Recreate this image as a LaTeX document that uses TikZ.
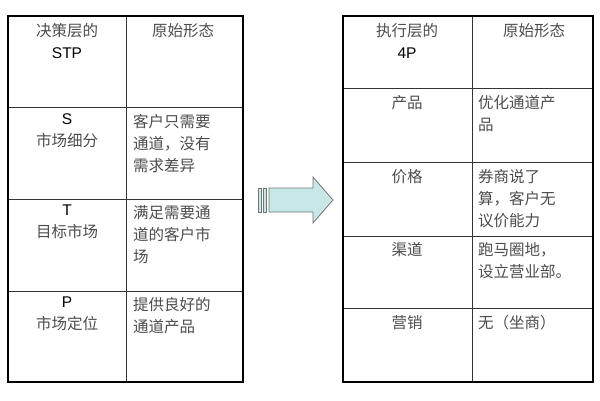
\documentclass[tikz,border=0pt]{standalone}
\usepackage{fontspec}
\newfontfamily\cjk{Noto Sans CJK SC}
\setmainfont{Liberation Sans}
\newcommand\latf{\rmfamily\color{black}}
\definecolor{arrfill}{RGB}{200,232,232}
\begin{document}
\begin{tikzpicture}[x=1pt,y=-1pt,
  tbl/.style={draw=black,line width=1.6pt},
  grid/.style={draw=black!80,line width=0.8pt},
  ctext/.style={anchor=north,align=center,font=\cjk\fontsize{15.5}{22}\selectfont,text=black!70,inner sep=0pt},
  ltext/.style={anchor=north west,align=left,font=\cjk\fontsize{15.5}{22}\selectfont,text=black!70,inner sep=0pt}]
\useasboundingbox (0,0) rectangle (600,400);
% left table
\draw[grid] (126,16) -- (126,382);
\foreach \y in {107,199,291} \draw[grid] (8,\y) -- (243,\y);
\draw[tbl] (8,16) rectangle (243,382);
% right table
\draw[grid] (472,16) -- (472,382);
\foreach \y in {88,162,236,308} \draw[grid] (343,\y) -- (593,\y);
\draw[tbl] (343,16) rectangle (593,382);
% left texts
\node[ctext] (h1) at (67,23) {决策层的\\{\latf STP}};
\node[ctext] (h2) at (183,23) {原始形态};
\node[ctext] (s1) at (67,113) {{\latf S}\\市场细分};
\node[ltext] (s2) at (133,114) {客户只需要\\通道，没有\\需求差异};
\node[ctext] (t1) at (67,205) {{\latf T}\\目标市场};
\node[ltext] (t2) at (133,205) {满足需要通\\道的客户市\\场};
\node[ctext] (p1) at (67,297) {{\latf P}\\市场定位};
\node[ltext] (p2) at (133,297) {提供良好的\\通道产品};
% right texts
\node[ctext] (r1) at (407,23) {执行层的\\{\latf 4P}};
\node[ctext] (r2) at (534,23) {原始形态};
\node[ctext] (a1) at (407,95) {产品};
\node[ltext] (a2) at (478,95) {优化通道产\\品};
\node[ctext] (b1) at (407,169) {价格};
\node[ltext] (b2) at (478,169) {券商说了\\算，客户无\\议价能力};
\node[ctext] (c1) at (407,242) {渠道};
\node[ltext] (c2) at (478,242) {跑马圈地，\\设立营业部。};
\node[ctext] (d1) at (407,315) {营销};
\node[ltext] (d2) at (478,315) {无（坐商）};
% arrow
\tikzset{arr/.style={fill=arrfill,draw=black!55,line width=0.8pt}}
\draw[arr] (258,188) rectangle (261,212);
\draw[arr] (263,188) rectangle (266,212);
\draw[arr] (269,188) -- (313,188) -- (313,177) -- (333,200) -- (313,223) -- (313,212) -- (269,212) -- cycle;
\end{tikzpicture}
\end{document}
